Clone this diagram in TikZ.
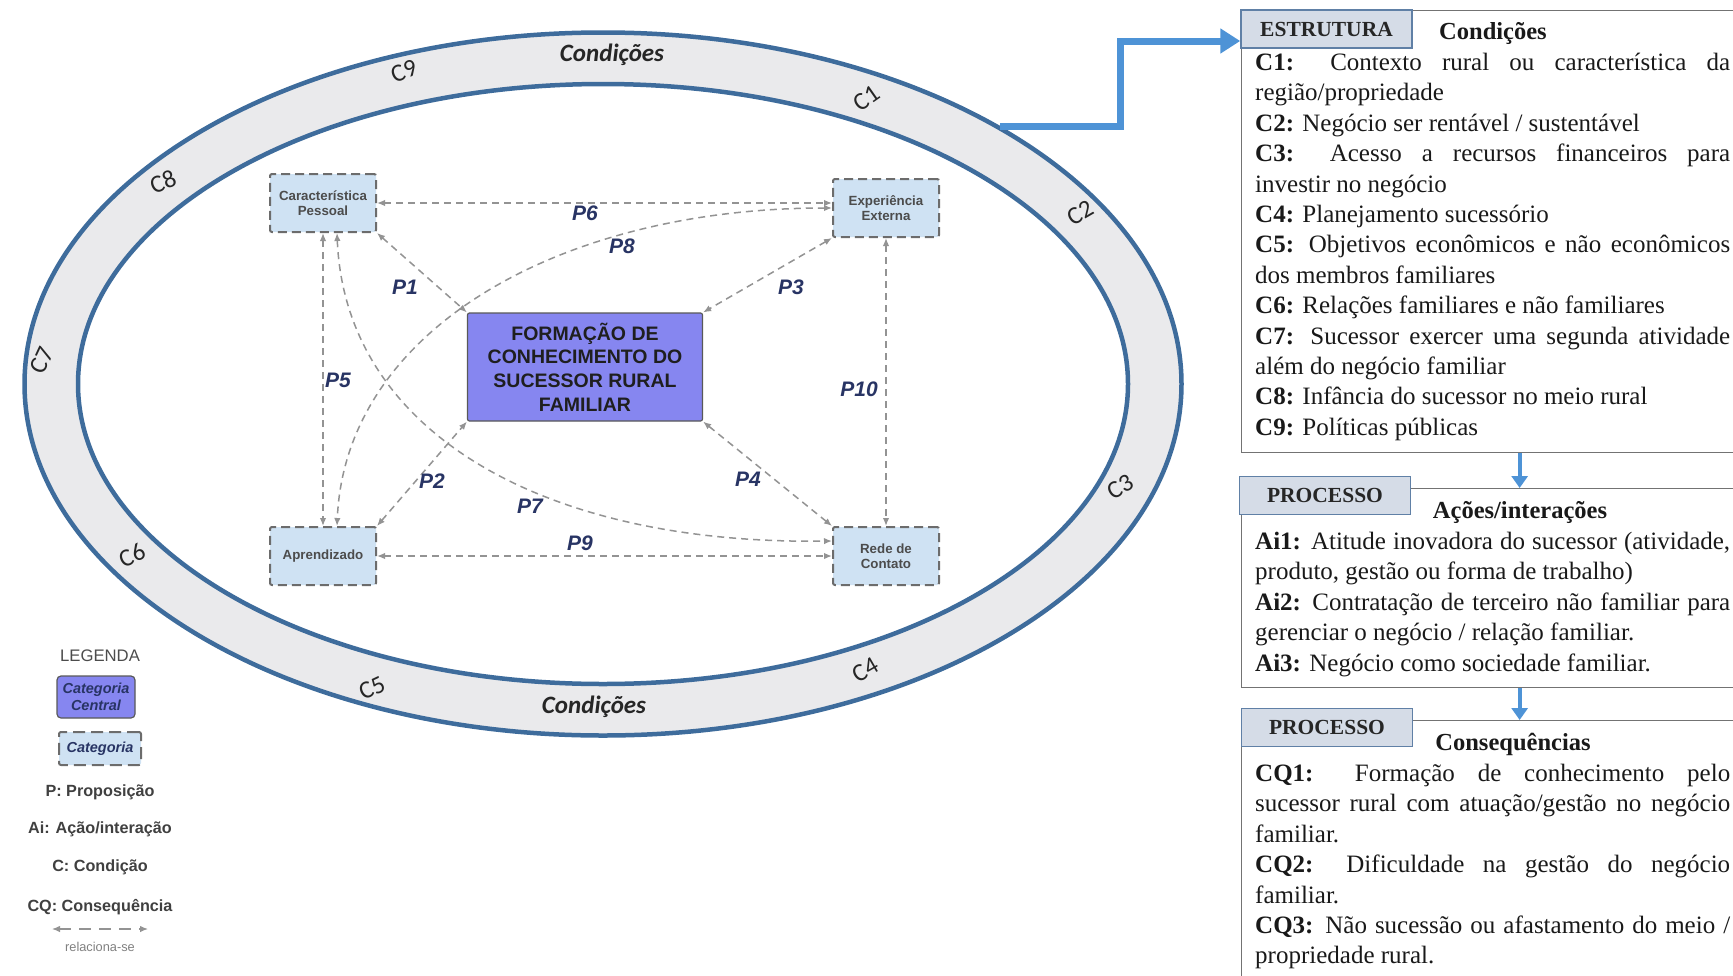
\documentclass[tikz,border=0pt]{standalone}
\usepackage{fontspec}
\setmainfont{Liberation Serif}
\setsansfont{Liberation Sans}
\newfontfamily\calibri{Carlito}
\usetikzlibrary{shapes.geometric, positioning, arrows.meta, calc}
\setlength{\parindent}{0pt}

\definecolor{ringblue}{RGB}{62,108,156}
\definecolor{bandgray}{RGB}{234,234,236}
\definecolor{flowblue}{RGB}{78,147,214}
\definecolor{catblue}{RGB}{207,226,243}
\definecolor{centralblue}{RGB}{134,134,240}
\definecolor{propnavy}{RGB}{40,52,100}
\definecolor{tabfill}{RGB}{213,220,231}
\definecolor{tabline}{RGB}{96,128,166}

\begin{document}
\begin{tikzpicture}[x=1pt, y=-1pt,
    ring/.style={draw=ringblue, line width=4.5pt, ellipse, fill=bandgray, inner sep=0pt},
    clabel/.style={font=\calibri\fontsize{25}{25}\selectfont, text=black!85},
    condlabel/.style={font=\calibri\bfseries\itshape\fontsize{25}{25}\selectfont, text=black!85},
    catbox/.style={draw=gray!85!black, line width=2pt, dash pattern=on 9pt off 5pt,
                   fill=catblue, rounded corners=2pt, align=center,
                   font=\sffamily\bfseries\fontsize{13.3}{15.5}\selectfont, text=black!70,
                   minimum width=106pt, minimum height=58pt},
    centralbox/.style={draw=black!65, line width=1.2pt, fill=centralblue, rounded corners=2pt,
                       align=center, font=\sffamily\bfseries\fontsize{19.5}{23.7}\selectfont,
                       text=black!88},
    rel/.style={draw=gray!85, line width=1.5pt, dash pattern=on 7pt off 5pt,
                <->, >={Latex[length=8pt,width=6.5pt]}},
    plabel/.style={font=\sffamily\bfseries\itshape\fontsize{21}{21}\selectfont, text=propnavy},
    flow/.style={draw=flowblue, line width=7pt, -{Triangle[length=20pt,width=24pt]}},
    downflow/.style={draw=flowblue, line width=4pt, -{Triangle[length=12pt,width=16pt]}},
    panel/.style={draw=black!55, line width=1.3pt, anchor=north west, minimum width=556pt},
    tab/.style={draw=tabline, line width=1.5pt, fill=tabfill, minimum width=171pt,
                minimum height=38pt, font=\rmfamily\bfseries\fontsize{21.5}{21.5}\selectfont,
                text=black!85},
    head/.style={font=\rmfamily\bfseries\fontsize{24.5}{24.5}\selectfont, text=black!90},
    body/.style={anchor=north west, inner sep=0pt, text width=475pt, align=justify,
                 font=\rmfamily\fontsize{25}{30.4}\selectfont, text=black!90},
    legtxt/.style={font=\sffamily\bfseries\fontsize{16.2}{16.2}\selectfont, text=black!75}
]
    \clip (0,0) rectangle (1733,975);

    % --- Condition ring ---
    \node[ring, minimum width=1157pt, minimum height=703pt] (outer) at (603,384) {};
    \node[ring, fill=white, minimum width=1050pt, minimum height=600pt] (inner) at (603,384) {};

    \node[condlabel] (condtop) at (612,55) {Condições};
    \node[condlabel] (condbot) at (594,707) {Condições};
    \node[clabel, rotate=22] (c9) at (404,71) {C9};
    \node[clabel, rotate=35] (c1) at (867,98) {C1};
    \node[clabel, rotate=22] (c8) at (163,182) {C8};
    \node[clabel, rotate=30] (c2) at (1080,213) {C2};
    \node[clabel, rotate=65] (c7) at (42,360) {C7};
    \node[clabel, rotate=30] (c3) at (1120,487) {C3};
    \node[clabel, rotate=25] (c6) at (132,555) {C6};
    \node[clabel, rotate=25] (c5) at (372,688) {C5};
    \node[clabel, rotate=30] (c4) at (865,670) {C4};

    % --- Categories ---
    \node[centralbox, minimum width=235pt, minimum height=108pt] (central) at (585,367)
        {FORMAÇÃO DE\\CONHECIMENTO DO\\SUCESSOR RURAL\\FAMILIAR};
    \node[catbox] (pessoal)  at (323,203) {Característica\\Pessoal};
    \node[catbox] (externa)  at (886,208) {Experiência\\Externa};
    \node[catbox] (aprend)   at (323,556) {Aprendizado};
    \node[catbox] (rede)     at (886,556) {Rede de\\Contato};

    % --- Propositions ---
    \draw[rel] (pessoal.south east) -- (central.north west);
    \draw[rel] (aprend.north east)  -- (central.south west);
    \draw[rel] (externa.south west) -- (central.north east);
    \draw[rel] (rede.north west)    -- (central.south east);
    \draw[rel] (pessoal.south)      -- (aprend.north);
    \draw[rel] (pessoal.east)       -- (pessoal.east -| externa.west);
    \draw[rel] ([xshift=14pt]pessoal.south) .. controls (345,430) and (540,545) .. ([yshift=15pt]rede.west);
    \draw[rel] (externa.west) .. controls (560,208) and (345,330) .. ([xshift=14pt]aprend.north);
    \draw[rel] (aprend.east)        -- (rede.west);
    \draw[rel] (externa.south)      -- (rede.north);

    \node[plabel] (p1)  at (405,287) {P1};
    \node[plabel] (p2)  at (432,481) {P2};
    \node[plabel] (p3)  at (791,287) {P3};
    \node[plabel] (p4)  at (748,479) {P4};
    \node[plabel] (p5)  at (338,380) {P5};
    \node[plabel] (p6)  at (585,213) {P6};
    \node[plabel] (p7)  at (530,506) {P7};
    \node[plabel] (p8)  at (622,246) {P8};
    \node[plabel] (p9)  at (580,543) {P9};
    \node[plabel] (p10) at (859,389) {P10};

    % --- Legend ---
    \node[font=\sffamily\fontsize{16.7}{16.7}\selectfont, text=black!70] (legtitle) at (100,656) {LEGENDA};
    \node[centralbox, minimum width=78pt, minimum height=42pt, rounded corners=4pt,
          font=\sffamily\bfseries\itshape\fontsize{14.5}{17}\selectfont, text=propnavy]
        (legcentral) at (96,697) {Categoria\\Central};
    \node[catbox, minimum width=82pt, minimum height=33pt, dash pattern=on 12pt off 6pt,
          font=\sffamily\bfseries\itshape\fontsize{14.5}{17}\selectfont, text=propnavy]
        (legcat) at (100,748.5) {Categoria};
    \node[legtxt] (legp)  at (100,792) {P: Proposição};
    \node[legtxt] (legai) at (100,829) {Ai: Ação/interação};
    \node[legtxt] (legc)  at (100,867) {C: Condição};
    \node[legtxt] (legcq) at (100,907) {CQ: Consequência};
    \coordinate (rela) at (52,929);
    \coordinate (relb) at (148,929);
    \draw[rel, line width=1.2pt, dash pattern=on 12pt off 8pt] (rela) -- (relb);
    \node[font=\sffamily\fontsize{12.8}{12.8}\selectfont, text=black!50] (legrel) at (100,947) {relaciona-se};

    % --- Panels ---
    \node[panel, minimum height=442pt] (estrbox) at (1241,10) {};
    \node[panel, minimum height=199pt] (acbox)   at (1241,488) {};
    \node[panel, minimum height=300pt] (cqbox)   at (1241,720) {};
    \node[tab] (estr)  at (1326.5,29)  {ESTRUTURA};
    \node[tab] (proc1) at (1325,495.5) {PROCESSO};
    \node[tab] (proc2) at (1327,727.5) {PROCESSO};

    \node[head] (condhead) at (1493,33)  {Condições};
    \node[head] (achead)   at (1520,512) {Ações/interações};
    \node[head] (cqhead)   at (1513,744) {Consequências};

    \node[body] (condtxt) at (1255,49) {\strut\textbf{C1:} Contexto rural ou característica da\linebreak
        região/propriedade\\
        \textbf{C2:} Negócio ser rentável / sustentável\\
        \textbf{C3:} Acesso a recursos financeiros para\linebreak investir no negócio\\
        \textbf{C4:} Planejamento sucessório\\
        \textbf{C5:} Objetivos econômicos e não econômicos\linebreak dos membros familiares\\
        \textbf{C6:} Relações familiares e não familiares\\
        \textbf{C7:} Sucessor exercer uma segunda atividade\linebreak além do negócio familiar\\
        \textbf{C8:} Infância do sucessor no meio rural\\
        \textbf{C9:} Políticas públicas};
    \node[body] (actxt) at (1255,528) {\strut\textbf{Ai1:} Atitude inovadora do sucessor (atividade,\linebreak
        produto, gestão ou forma de trabalho)\\
        \textbf{Ai2:} Contratação de terceiro não familiar para\linebreak gerenciar o negócio / relação familiar.\\
        \textbf{Ai3:} Negócio como sociedade familiar.};
    \node[body] (cqtxt) at (1255,760) {\strut\textbf{CQ1:} Formação de conhecimento pelo\linebreak
        sucessor rural com atuação/gestão no negócio\linebreak familiar.\\
        \textbf{CQ2:} Dificuldade na gestão do negócio\linebreak familiar.\\
        \textbf{CQ3:} Não sucessão ou afastamento do meio /\linebreak propriedade rural.};

    % --- Flow arrows ---
    \draw[flow] (outer.33) -- ++(120,0) |- ($(estr.west)+(0,12)$);
    \draw[downflow] (estrbox.south) -- (acbox.north);
    \draw[downflow] (acbox.south) -- (cqbox.north);
\end{tikzpicture}
\end{document}
